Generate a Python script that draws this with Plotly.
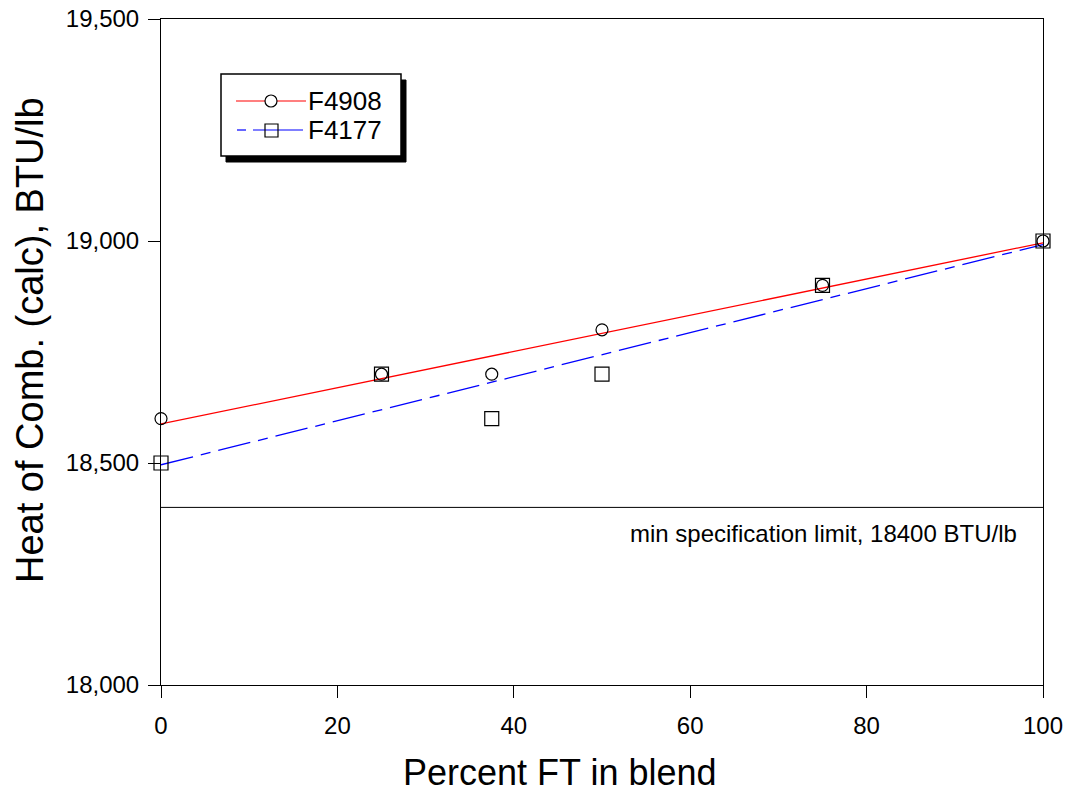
import plotly.graph_objects as go

# ---- data ----
pct_ft = [0, 25, 37.5, 50, 75, 100]
f4908 = [18600, 18700, 18700, 18800, 18900, 19000]
f4177 = [18500, 18700, 18600, 18700, 18900, 19000]
fit_x = [0, 100]
fit_f4908 = [18588, 18996]
fit_f4177 = [18496, 18992]
spec_limit = 18400
y_ticks = [18000, 18500, 19000, 19500]
x_ticks = [0, 20, 40, 60, 80, 100]

W, H = 1070, 796
L, R, T, B = 161, 27, 19, 111
PW, PH = W - L - R, H - T - B


def px(x):
    return (x - L) / PW


def py(y):
    return 1 - (y - T) / PH


FONT = "Liberation Sans, Arial, sans-serif"

fig = go.Figure()
fig.add_trace(go.Scatter(x=fit_x, y=fit_f4908, mode="lines",
                         line=dict(color="#ff0000", width=1.3), showlegend=False))
fig.add_trace(go.Scatter(x=fit_x, y=fit_f4177, mode="lines",
                         line=dict(color="#0000ff", width=1.3, dash="33px,8px,10px,8px"),
                         showlegend=False))
fig.add_trace(go.Scatter(x=pct_ft, y=f4908, mode="markers", name="F4908",
                         marker=dict(symbol="circle-open", size=12, color="black",
                                     line=dict(width=1.2, color="black")),
                         showlegend=False, cliponaxis=False))
fig.add_trace(go.Scatter(x=pct_ft, y=f4177, mode="markers", name="F4177",
                         marker=dict(symbol="square-open", size=14, color="black",
                                     line=dict(width=1.2, color="black")),
                         showlegend=False, cliponaxis=False))

shapes = []
# spec limit line
shapes.append(dict(type="line", xref="x", yref="y", x0=0, x1=100,
                   y0=spec_limit, y1=spec_limit, line=dict(color="black", width=1)))
# legend shadow and box
shapes.append(dict(type="rect", xref="paper", yref="paper",
                   x0=px(226), x1=px(406), y0=py(80), y1=py(162),
                   fillcolor="black", line=dict(color="black", width=1)))
shapes.append(dict(type="rect", xref="paper", yref="paper",
                   x0=px(221), x1=px(401), y0=py(74), y1=py(156),
                   fillcolor="white", line=dict(color="black", width=1.5)))
# legend line F4908
shapes.append(dict(type="line", xref="paper", yref="paper",
                   x0=px(236), x1=px(306), y0=py(101), y1=py(101),
                   line=dict(color="#ff0000", width=1.2)))
shapes.append(dict(type="circle", xref="paper", yref="paper",
                   x0=px(265), x1=px(277), y0=py(95), y1=py(107),
                   fillcolor="white", line=dict(color="black", width=1.2)))
# legend line F4177
shapes.append(dict(type="line", xref="paper", yref="paper",
                   x0=px(253), x1=px(303), y0=py(130), y1=py(130),
                   line=dict(color="#0000ff", width=1.2)))
shapes.append(dict(type="line", xref="paper", yref="paper",
                   x0=px(237), x1=px(246), y0=py(130), y1=py(130),
                   line=dict(color="#0000ff", width=1.2)))
shapes.append(dict(type="rect", xref="paper", yref="paper",
                   x0=px(265), x1=px(278), y0=py(124), y1=py(137),
                   line=dict(color="black", width=1.2)))

annotations = [
    dict(x=px(306), y=py(101), xref="paper", yref="paper", text="F4908",
         showarrow=False, xanchor="left", yanchor="middle",
         font=dict(family=FONT, size=26, color="black")),
    dict(x=px(306), y=py(130), xref="paper", yref="paper", text="F4177",
         showarrow=False, xanchor="left", yanchor="middle",
         font=dict(family=FONT, size=26, color="black")),
    dict(x=px(1019), y=py(533), xref="paper", yref="paper",
         text="min specification limit, 18400 BTU/lb",
         showarrow=False, xanchor="right", yanchor="middle",
         font=dict(family=FONT, size=24, color="black")),
    dict(x=px(560), y=py(773), xref="paper", yref="paper",
         text="Percent FT in blend",
         showarrow=False, xanchor="center", yanchor="middle",
         font=dict(family=FONT, size=36, color="black")),
    dict(x=px(30), y=py(340), xref="paper", yref="paper",
         text="Heat of Comb. (calc), BTU/lb", textangle=-90,
         showarrow=False, xanchor="center", yanchor="middle",
         font=dict(family=FONT, size=38, color="black")),
]

fig.update_layout(
    width=W, height=H,
    margin=dict(l=L, r=R, t=T, b=B, autoexpand=False),
    paper_bgcolor="white", plot_bgcolor="white",
    font=dict(family=FONT, color="black"),
    shapes=shapes, annotations=annotations,
    showlegend=False,
    xaxis=dict(range=[0, 100], tickvals=x_ticks, ticks="outside", ticklen=12,
               tickwidth=1, tickcolor="black", showline=True, linecolor="black",
               linewidth=1, mirror=True, showgrid=False, zeroline=False,
               ticklabelstandoff=7,
               tickfont=dict(family=FONT, size=24, color="black")),
    yaxis=dict(range=[18000, 19500], tickvals=y_ticks, tickformat=",",
               ticks="outside", ticklen=12, tickwidth=1, tickcolor="black",
               showline=True, linecolor="black", linewidth=1, mirror=True,
               showgrid=False, zeroline=False, ticklabelstandoff=4,
               tickfont=dict(family=FONT, size=24, color="black")),
)

fig.write_html("out.html")
